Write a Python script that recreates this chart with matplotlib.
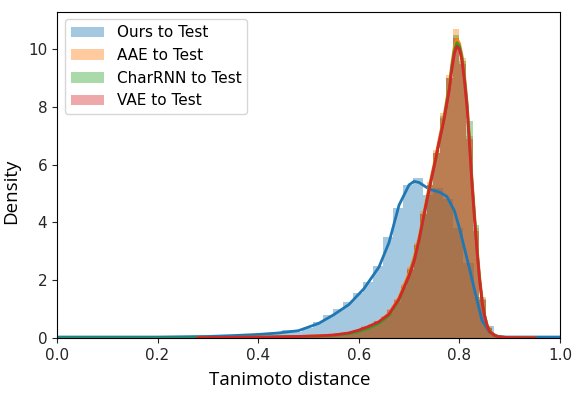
import numpy as np
from matplotlib import pyplot as plt

LABELS = ['Ours to Test', 'AAE to Test', 'CharRNN to Test', 'VAE to Test']
COLORS = ['#1f77b4', '#ff7f0e', '#2ca02c', '#d62728']

# histogram of "Ours" (bin width 0.02, first edge 0.008)
OURS_BIN_START = 0.008
OURS_BIN_WIDTH = 0.02
OURS_HIST = [0.02, 0.02, 0.02, 0.02, 0.02, 0.02, 0.02, 0.02, 0.02, 0.02,
             0.02, 0.02, 0.02, 0.02, 0.02, 0.03, 0.04, 0.06, 0.08, 0.10,
             0.13, 0.18, 0.28, 0.22, 0.35, 0.55, 0.80, 1.00, 1.25, 1.55,
             1.95, 2.50, 3.50, 4.50, 5.30, 5.55, 4.95, 5.20, 4.80, 3.80,
             2.60, 1.40, 0.40, 0.08, 0.03, 0.02, 0.02, 0.02, 0.02, 0.02]

# histograms of the three baselines (bin width 0.013, first edge 0.28)
MODEL_BIN_START = 0.28
MODEL_BIN_WIDTH = 0.013
AAE_HIST = [0.02, 0.01, 0.02, 0.02, 0.03, 0.02, 0.03, 0.03, 0.03, 0.04,
            0.03, 0.04, 0.04, 0.05, 0.05, 0.06, 0.06, 0.07, 0.08, 0.09,
            0.10, 0.13, 0.15, 0.21, 0.26, 0.40, 0.48, 0.60, 0.75, 1.00,
            1.35, 1.85, 2.45, 3.30, 4.40, 5.40, 6.50, 7.80, 9.10, 10.70,
            9.70, 7.00, 3.80, 1.40, 0.40, 0.10, 0.03, 0.01, 0.00, 0.00]
CHARRNN_HIST = [0.02, 0.01, 0.01, 0.02, 0.02, 0.02, 0.03, 0.02, 0.03, 0.03,
                0.03, 0.04, 0.04, 0.04, 0.05, 0.05, 0.06, 0.07, 0.07, 0.08,
                0.09, 0.11, 0.14, 0.18, 0.24, 0.34, 0.42, 0.54, 0.68, 0.90,
                1.25, 1.75, 2.35, 3.20, 4.30, 5.30, 6.40, 7.70, 9.00, 10.50,
                9.60, 7.50, 3.90, 1.35, 0.35, 0.09, 0.03, 0.01, 0.00, 0.00]
VAE_HIST = [0.02, 0.01, 0.02, 0.02, 0.03, 0.02, 0.03, 0.03, 0.03, 0.04,
            0.03, 0.04, 0.04, 0.05, 0.05, 0.06, 0.06, 0.07, 0.08, 0.09,
            0.10, 0.12, 0.16, 0.20, 0.27, 0.38, 0.46, 0.58, 0.72, 0.95,
            1.30, 1.80, 2.40, 3.20, 4.30, 5.30, 6.40, 7.60, 9.00, 10.40,
            9.50, 6.90, 3.70, 1.30, 0.35, 0.08, 0.03, 0.01, 0.00, 0.00]

# kde curves
OURS_KDE_X = [0.00, 0.10, 0.20, 0.30, 0.35, 0.40, 0.44, 0.48, 0.52, 0.55,
              0.58, 0.61, 0.64, 0.66, 0.68, 0.70, 0.71, 0.72, 0.74, 0.76,
              0.775, 0.79, 0.80, 0.81, 0.82, 0.835, 0.845, 0.86, 0.875, 0.89,
              0.95, 1.00]
OURS_KDE_Y = [0.03, 0.03, 0.03, 0.05, 0.08, 0.12, 0.17, 0.25, 0.50, 0.80,
              1.15, 1.70, 2.45, 3.30, 4.60, 5.30, 5.42, 5.38, 5.15, 5.05,
              4.90, 4.40, 3.80, 3.10, 2.40, 1.30, 0.60, 0.20, 0.06, 0.03,
              0.03, 0.03]

MODEL_KDE_X = [0.28, 0.35, 0.42, 0.48, 0.52, 0.55, 0.58, 0.60, 0.62, 0.64,
               0.66, 0.68, 0.70, 0.71, 0.72, 0.73, 0.74, 0.75, 0.76, 0.77,
               0.78, 0.785, 0.79, 0.795, 0.80, 0.805, 0.81, 0.815, 0.82, 0.825,
               0.83, 0.835, 0.84, 0.845, 0.85, 0.855, 0.86, 0.87, 0.88, 0.90,
               0.95]
AAE_KDE_Y = [0.01, 0.02, 0.03, 0.05, 0.07, 0.10, 0.16, 0.25, 0.38, 0.55,
             0.85, 1.40, 2.25, 2.80, 3.50, 4.40, 5.25, 6.05, 6.90, 7.75,
             8.80, 9.50, 10.10, 10.35, 10.20, 9.80, 9.10, 8.20, 6.90, 5.50,
             4.30, 3.15, 2.15, 1.35, 0.80, 0.45, 0.25, 0.09, 0.03, 0.01,
             0.00]
CHARRNN_KDE_Y = [0.01, 0.02, 0.03, 0.05, 0.06, 0.09, 0.14, 0.22, 0.34, 0.50,
                 0.78, 1.32, 2.15, 2.70, 3.40, 4.30, 5.15, 5.95, 6.80, 7.65,
                 8.70, 9.40, 9.95, 10.22, 10.10, 9.70, 9.00, 8.10, 6.80, 5.40,
                 4.20, 3.05, 2.05, 1.30, 0.78, 0.44, 0.23, 0.08, 0.03, 0.01,
                 0.00]
CHARRNN_TAIL_X = [0.00, 0.10, 0.20, 0.28]
CHARRNN_TAIL_Y = [0.01, 0.01, 0.01, 0.01]
VAE_KDE_Y = [0.01, 0.02, 0.03, 0.05, 0.07, 0.10, 0.17, 0.27, 0.40, 0.56,
             0.82, 1.35, 2.15, 2.65, 3.40, 4.30, 5.15, 5.95, 6.80, 7.60,
             8.60, 9.30, 9.85, 10.10, 10.00, 9.60, 8.90, 8.00, 6.70, 5.30,
             4.10, 3.00, 2.00, 1.25, 0.75, 0.42, 0.22, 0.08, 0.03, 0.01,
             0.00]


def draw_hist(ax, start, width, heights, color, label):
    lefts = start + width * np.arange(len(heights))
    ax.bar(lefts, heights, width=width, align='edge', color=color,
           alpha=0.4, linewidth=0, label=label)


fig = plt.figure(figsize=(5.75, 3.98), dpi=100)
ax = fig.add_subplot(111)
fig.subplots_adjust(left=0.099, right=0.974, top=0.971, bottom=0.151)

draw_hist(ax, OURS_BIN_START, OURS_BIN_WIDTH, OURS_HIST, COLORS[0], LABELS[0])
ax.plot(OURS_KDE_X, OURS_KDE_Y, color=COLORS[0], lw=2)

draw_hist(ax, MODEL_BIN_START, MODEL_BIN_WIDTH, AAE_HIST, COLORS[1], LABELS[1])
ax.plot(MODEL_KDE_X, AAE_KDE_Y, color=COLORS[1], lw=2)

draw_hist(ax, MODEL_BIN_START, MODEL_BIN_WIDTH, CHARRNN_HIST, COLORS[2], LABELS[2])
ax.plot(CHARRNN_TAIL_X, CHARRNN_TAIL_Y, color=COLORS[2], lw=2)
ax.plot(MODEL_KDE_X, CHARRNN_KDE_Y, color=COLORS[2], lw=2)

draw_hist(ax, MODEL_BIN_START, MODEL_BIN_WIDTH, VAE_HIST, COLORS[3], LABELS[3])
ax.plot(MODEL_KDE_X, VAE_KDE_Y, color=COLORS[3], lw=2)

ax.set_xlim(0, 1)
ax.set_ylim(0, 11.3)
ax.set_xticks([0.0, 0.2, 0.4, 0.6, 0.8, 1.0])
ax.set_yticks([0, 2, 4, 6, 8, 10])
ax.tick_params(labelsize=11, colors='#262626', labelcolor='#262626')
ax.set_xlabel('Tanimoto distance', fontsize=13.5, family='Open Sans')
ax.set_ylabel('Density', fontsize=13.5, family='Open Sans')
# the axis titles sit a little off-centre in the original
ax.xaxis.set_label_coords(0.463, -0.1)
ax.yaxis.set_label_coords(-0.074, 0.45)
ax.legend(loc='upper left', fontsize=11, handlelength=2.2)

plt.savefig('out.png')
